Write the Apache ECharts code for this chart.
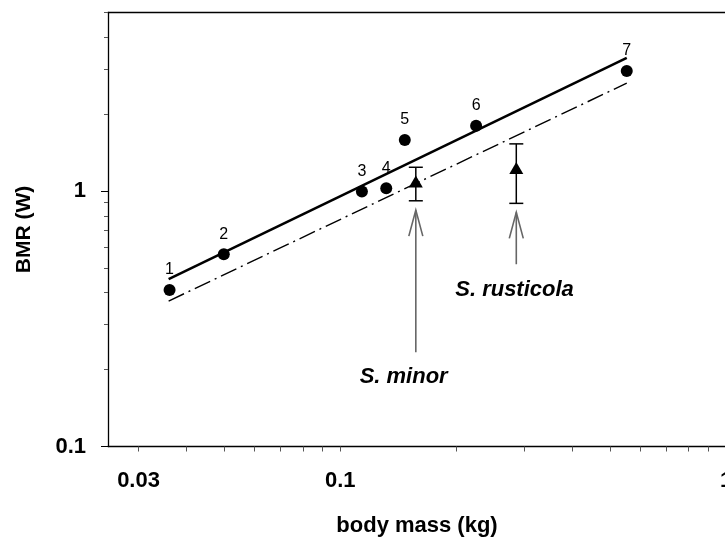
<!DOCTYPE html>
<html>
<head>
<meta charset="utf-8">
<script src="https://cdn.jsdelivr.net/npm/echarts@6/dist/echarts.min.js"></script>
<style>
html,body{margin:0;padding:0;background:#fff;}
#chart{width:725px;height:538px;}
</style>
</head>
<body>
<div id="chart"></div>
<script>
// ---- data ----
const speciesLabels = ['1', '2', '3', '4', '5', '6', '7'];
const massKg = [0.0361, 0.0499, 0.1138, 0.1316, 0.147, 0.225, 0.553];
const bmrW = [0.41, 0.566, 0.997, 1.025, 1.585, 1.80, 2.95];

const woodcockNames = ['S. minor', 'S. rusticola'];
const woodcockMass = [0.157, 0.286];
const woodcockBMR = [1.09, 1.23];
const woodcockLow = [0.916, 0.895];
const woodcockHigh = [1.239, 1.53];

const fitMass = [0.0359, 0.553];
const fitAllometric = [0.452, 3.32];
const fitPredicted = [0.371, 2.645];

const xTickValues = [0.03, 0.04, 0.05, 0.06, 0.07, 0.08, 0.09, 0.1, 0.2, 0.3, 0.4, 0.5, 0.6, 0.7, 0.8, 0.9, 1];
const xLabelValues = [0.03, 0.1, 1];
const yTickValues = [0.1, 0.2, 0.3, 0.4, 0.5, 0.6, 0.7, 0.8, 0.9, 1, 2, 3, 4, 5];
const yLabelValues = [0.1, 1];

// annotation layout (data coordinates)
const arrowTipBMR = [0.842, 0.825];
const arrowTailBMR = [0.234, 0.517];
const nameMass = [0.146, 0.283];
const nameBMR = [0.187, 0.409];

const FONT = '"Liberation Sans", Arial, Helvetica, sans-serif';
const fmt = v => String(Number(Number(v).toPrecision(3)));

const chart = echarts.init(document.getElementById('chart'), null, {renderer: 'canvas'});

const option = {
  animation: false,
  backgroundColor: '#fff',
  grid: {left: 108, right: -1, top: 12.5, bottom: 91.5, containLabel: false, outerBoundsMode: 'none'},
  xAxis: [{
    type: 'log', min: 0.025, max: 1, logBase: 10,
    name: 'body mass (kg)', nameLocation: 'middle', nameGap: 68,
    nameTextStyle: {fontFamily: FONT, fontWeight: 'bold', fontSize: 22, color: '#000'},
    axisLine: {show: true, lineStyle: {color: '#000', width: 1.3}},
    axisTick: {show: true, length: 5, lineStyle: {color: '#555', width: 1}, customValues: xTickValues},
    axisLabel: {show: true, customValues: xLabelValues, formatter: fmt, margin: 23,
      fontFamily: FONT, fontWeight: 'bold', fontSize: 22, color: '#000'},
    splitLine: {show: false}, minorTick: {show: false}
  }, {
    type: 'log', min: 0.025, max: 1, position: 'top',
    axisLine: {show: true, lineStyle: {color: '#000', width: 1.3}},
    axisTick: {show: false}, axisLabel: {show: false}, splitLine: {show: false}
  }],
  yAxis: [{
    type: 'log', min: 0.1, max: 5, logBase: 10,
    name: 'BMR (W)', nameLocation: 'middle', nameGap: 73, nameRotate: 90,
    nameTextStyle: {fontFamily: FONT, fontWeight: 'bold', fontSize: 21, color: '#000'},
    axisLine: {show: true, lineStyle: {color: '#000', width: 1.3}},
    axisTick: {show: true, length: 4, lineStyle: {color: '#555', width: 1}, customValues: yTickValues},
    axisLabel: {show: true, customValues: yLabelValues, formatter: fmt, margin: 22,
      fontFamily: FONT, fontWeight: 'bold', fontSize: 22, color: '#000'},
    splitLine: {show: false}
  }, {
    type: 'log', min: 0.1, max: 5, position: 'left', offset: 0,
    axisLine: {show: false},
    axisTick: {show: true, length: 7, lineStyle: {color: '#000', width: 1}, customValues: yLabelValues},
    axisLabel: {show: false}, splitLine: {show: false}
  }],
  series: [
    {
      type: 'line', name: 'allometric',
      data: fitMass.map((m, i) => [m, fitAllometric[i]]),
      showSymbol: false, symbol: 'none',
      lineStyle: {color: '#000', width: 2.6, type: 'solid', opacity: 1}, z: 2
    },
    {
      type: 'line', name: 'predicted',
      data: fitMass.map((m, i) => [m, fitPredicted[i]]),
      showSymbol: false, symbol: 'none',
      lineStyle: {color: '#000', width: 1.4, type: [17, 5, 2, 5], opacity: 1}, z: 2
    },
    {
      type: 'scatter', name: 'species',
      data: massKg.map((m, i) => ({value: [m, bmrW[i]], name: speciesLabels[i]})),
      symbol: 'circle', symbolSize: 12,
      itemStyle: {color: '#000', opacity: 1},
      label: {show: true, position: 'top', distance: 6, formatter: p => p.name,
        fontFamily: FONT, fontSize: 16, color: '#000', opacity: 1},
      z: 4
    },
    {
      type: 'custom', name: 'errorbars',
      data: woodcockMass.map((m, i) => [m, woodcockLow[i], woodcockHigh[i]]),
      renderItem: function (params, api) {
        const lo = api.coord([api.value(0), api.value(1)]);
        const hi = api.coord([api.value(0), api.value(2)]);
        const hw = 7;
        const st = {stroke: '#000', lineWidth: 1.5};
        return {type: 'group', children: [
          {type: 'line', shape: {x1: lo[0], y1: lo[1], x2: hi[0], y2: hi[1]}, style: st},
          {type: 'line', shape: {x1: lo[0] - hw, y1: lo[1], x2: lo[0] + hw, y2: lo[1]}, style: st},
          {type: 'line', shape: {x1: hi[0] - hw, y1: hi[1], x2: hi[0] + hw, y2: hi[1]}, style: st}
        ]};
      },
      z: 3
    },
    {
      type: 'scatter', name: 'woodcocks',
      data: woodcockMass.map((m, i) => [m, woodcockBMR[i]]),
      symbol: 'triangle', symbolSize: [14, 12],
      itemStyle: {color: '#000', opacity: 1}, z: 5
    },
    {
      type: 'custom', name: 'arrows',
      data: woodcockMass.map((m, i) => [m, arrowTipBMR[i], arrowTailBMR[i]]),
      renderItem: function (params, api) {
        const tip = api.coord([api.value(0), api.value(1)]);
        const tail = api.coord([api.value(0), api.value(2)]);
        const st = {stroke: '#666', lineWidth: 1.6, fill: null};
        return {type: 'group', children: [
          {type: 'line', shape: {x1: tip[0], y1: tip[1], x2: tail[0], y2: tail[1]}, style: st},
          {type: 'polyline', shape: {points: [[tip[0] - 7, tip[1] + 26], [tip[0], tip[1]], [tip[0] + 7, tip[1] + 26]]}, style: st}
        ]};
      },
      z: 3
    },
    {
      type: 'scatter', name: 'names',
      data: woodcockNames.map((n, i) => ({value: [nameMass[i], nameBMR[i]], name: n})),
      symbolSize: 0, silent: true,
      itemStyle: {opacity: 1},
      label: {show: true, position: 'inside', formatter: p => p.name,
        fontFamily: FONT, fontSize: 22, fontWeight: 'bold', fontStyle: 'italic', color: '#000', opacity: 1},
      z: 5
    }
  ]
};
chart.setOption(option);
</script>
</body>
</html>
